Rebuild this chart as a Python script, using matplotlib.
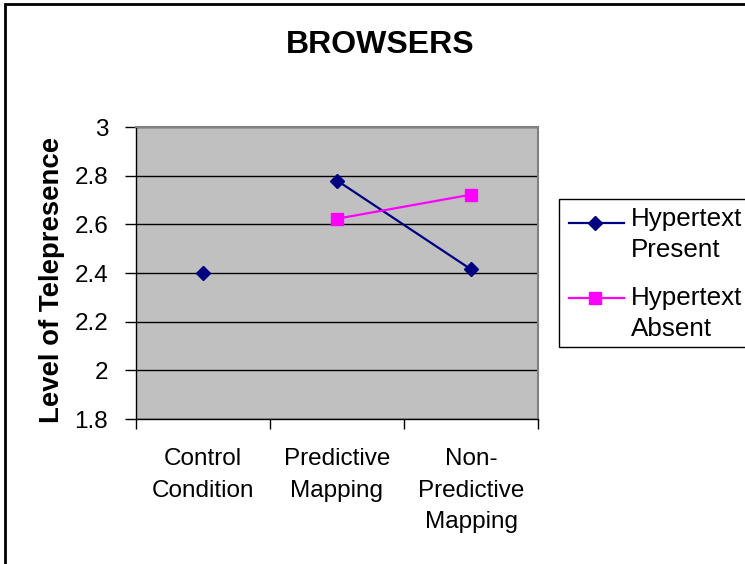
import matplotlib

matplotlib.use("Agg")
import matplotlib.pyplot as plt
import numpy as np
from matplotlib.lines import Line2D
from matplotlib.patches import Rectangle

plt.rcParams["font.family"] = ["Liberation Sans", "DejaVu Sans"]

# data
categories = ["Control\nCondition", "Predictive\nMapping", "Non-\nPredictive\nMapping"]
present = [2.40, 2.78, 2.415]
absent = [np.nan, 2.623, 2.722]
yticks = [1.8, 2.0, 2.2, 2.4, 2.6, 2.8, 3.0]
ytick_labels = ["1.8", "2", "2.2", "2.4", "2.6", "2.8", "3"]

W, H = 745, 564
navy = "#000080"
magenta = "#FF00FF"

fig = plt.figure(figsize=(W / 100, H / 100), dpi=100)


def fx(px):
    return px / W


def fy(py):
    return 1 - py / H


ax = fig.add_axes([fx(136), fy(419), fx(538) - fx(136), fy(127) - fy(419)])
ax.set_facecolor("#C0C0C0")

x = np.arange(len(categories))

# control point stands alone, the line only joins the two mapping conditions
ax.plot(x[0], present[0], linestyle="none", marker="D", color=navy,
        markersize=7.2, zorder=3)
ax.plot(x[1:], present[1:], color=navy, linewidth=1.6, marker="D",
        markersize=7.2, zorder=3)
ax.plot(x, absent, color=magenta, linewidth=1.6, marker="s",
        markersize=8, zorder=3)

ax.set_xlim(-0.5, 2.5)
ax.set_ylim(1.8, 3.0)
ax.set_yticks(yticks)
ax.set_yticklabels(ytick_labels)
ax.yaxis.grid(True, color="black", linewidth=1)
ax.set_axisbelow(True)

ax.set_xticks(x)
ax.set_xticklabels(categories, linespacing=1.55)
ax.set_xticks([-0.5, 0.5, 1.5, 2.5], minor=True)
ax.tick_params(axis="x", which="major", length=0, pad=21, labelsize=17.5)
ax.tick_params(axis="x", which="minor", length=7, width=1, direction="out")
ax.tick_params(axis="y", length=8, width=1, direction="out", pad=12,
               labelsize=17.5)

for side in ("top", "right"):
    ax.spines[side].set_color("#808080")
    ax.spines[side].set_linewidth(1.5)
for side in ("left", "bottom"):
    ax.spines[side].set_color("black")
    ax.spines[side].set_linewidth(1)

fig.text(fx(52), fy(280), "Level of Telepresence", rotation=90,
         fontsize=19.8, fontweight="bold", ha="center", va="center")
fig.text(fx(380), fy(45), "BROWSERS", fontsize=23, fontweight="bold",
         ha="center", va="center")

# legend box, cut off at the right like the original
fig.patches.append(Rectangle((fx(559), fy(347)), fx(300), fy(199) - fy(347),
                             transform=fig.transFigure, facecolor="white",
                             edgecolor="black", linewidth=1))
entries = [("Hypertext\nPresent", navy, "D", 7.2, 223, 207),
           ("Hypertext\nAbsent", magenta, "s", 8, 298, 286)]
for label, col, mk, ms, py, ty in entries:
    fig.lines.append(Line2D([fx(569), fx(624)], [fy(py), fy(py)],
                            transform=fig.transFigure, color=col,
                            linewidth=1.6))
    fig.lines.append(Line2D([fx(595)], [fy(py)], transform=fig.transFigure,
                            color=col, marker=mk, markersize=ms))
    fig.text(fx(631), fy(ty), label, fontsize=18.7, ha="left", va="top",
             linespacing=1.38)

# outer chart border
fig.patches.append(Rectangle((fx(5), fy(600)), fx(800), fy(4) - fy(600),
                             transform=fig.transFigure, facecolor="none",
                             edgecolor="black", linewidth=2))

fig.savefig("out.png", dpi=100)
